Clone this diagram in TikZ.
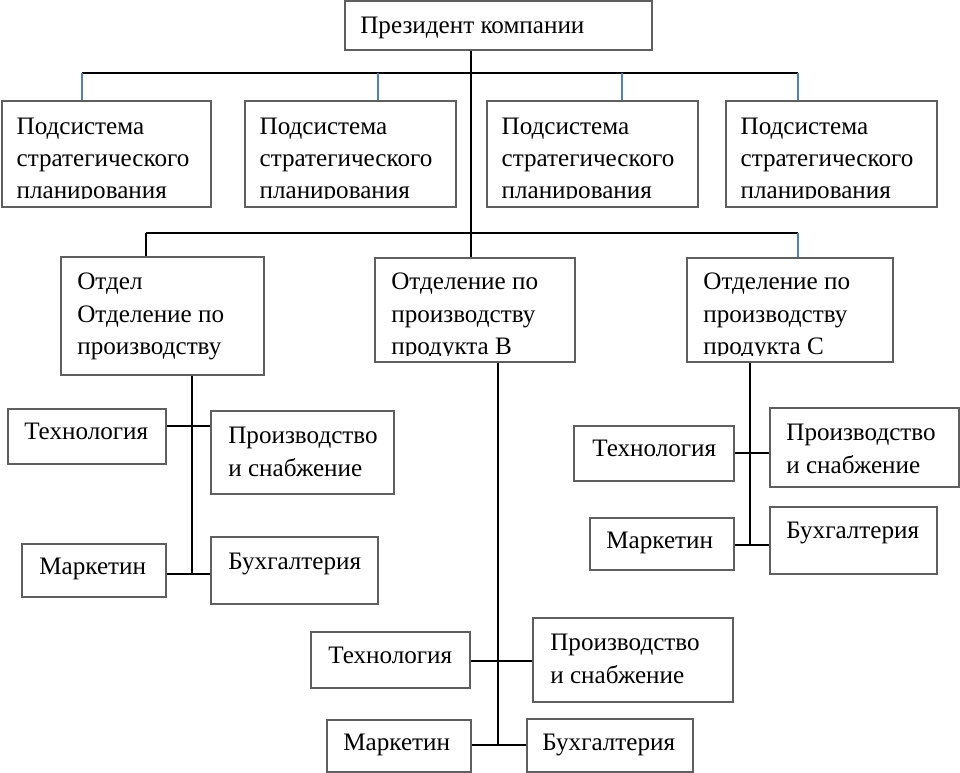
\documentclass[tikz,border=0pt]{standalone}
\usepackage{fontspec}
\setmainfont{Liberation Serif}
\usetikzlibrary{fit}
\definecolor{boxgray}{RGB}{95,95,95}
\definecolor{stubblue}{RGB}{79,129,189}

\tikzset{
  unitbox/.style={draw=boxgray, line width=0.8pt, inner sep=0pt},
  lbl/.style={anchor=north west, inner sep=0pt, align=left, font=\fontsize{14.3pt}{18.4pt}\selectfont},
  link/.style={line width=0.75pt},
  bluelink/.style={draw=stubblue, line width=0.75pt}
}

\begin{document}
\begin{tikzpicture}[x=0.02cm, y=-0.02cm]
    \useasboundingbox (0,0) rectangle (960,773);

    % president
    \node[unitbox, fit={(345,1) (652,50)}] (pres) {};
    \node[lbl] (prest) at (360,17) {Президент компании};

    % subsystems (text cut at the bottom as in the original)
    \foreach \name/\xa/\xb in {sub1/2/211, sub2/245/456, sub3/487/698, sub4/726/937} {
        \node[unitbox, fit={(\xa,101) (\xb,207)}] (\name) {};
        \begin{scope}
            \clip (\name.north west) rectangle ([yshift=0.18cm]\name.south east);
            \node[lbl] (\name t) at ([xshift=0.3cm, yshift=-0.34cm]\name.north west) {Подсистема\\стратегического\\планирования};
        \end{scope}
    }

    \coordinate (busL) at (82,73);
    \coordinate (bus2) at (378,73);
    \coordinate (bus3) at (622,73);
    \coordinate (busR) at (798,73);
    \draw[link] (busL) -- (busR);
    \draw[bluelink] (busL) -- (busL |- sub1.north);
    \draw[bluelink] (bus2) -- (bus2 |- sub2.north);
    \draw[bluelink] (bus3) -- (bus3 |- sub3.north);
    \draw[bluelink] (busR) -- (busR |- sub4.north);

    % divisions
    \node[unitbox, fit={(61,257) (264,375)}] (dA) {};
    \node[lbl] (dAt) at (77,273) {Отдел\\Отделение по\\производству};

    \node[unitbox, fit={(375,258) (575,362)}] (dB) {};
    \begin{scope}
        \clip (dB.north west) rectangle ([yshift=0.14cm]dB.south east);
        \node[lbl] (dBt) at (391,273) {Отделение по\\производству\\продукта В};
    \end{scope}

    \node[unitbox, fit={(687,258) (893,362)}] (dC) {};
    \begin{scope}
        \clip (dC.north west) rectangle ([yshift=0.14cm]dC.south east);
        \node[lbl] (dCt) at (703,273) {Отделение по\\производству\\продукта С};
    \end{scope}

    \coordinate (trunk) at (471,233);
    \coordinate (bus2L) at (146,233);
    \coordinate (bus2R) at (798,233);
    \draw[link] (pres.south -| trunk) -- (trunk |- dB.north);
    \draw[link] (bus2L) -- (bus2R);
    \draw[link] (bus2L) -- (bus2L |- dA.north);
    \draw[bluelink] (bus2R) -- (bus2R |- dC.north);

    % services of division A
    \node[unitbox, fit={(8,409) (166,464)}] (tA) {};
    \node[lbl] (tAt) at (24,423) {Технология};
    \node[unitbox, fit={(211,411) (394,494)}] (pA) {};
    \node[lbl] (pAt) at (228,427) {Производство\\и снабжение};
    \node[unitbox, fit={(22,544) (166,597)}] (mA) {};
    \node[lbl] (mAt) at (39,558) {Маркетин};
    \node[unitbox, fit={(211,537) (378,604)}] (bA) {};
    \node[lbl] (bAt) at (228,553) {Бухгалтерия};

    \coordinate (jA1) at (192,426);
    \coordinate (jA2) at (192,574);
    \draw[link] (dA.south -| jA2) -- (jA2);
    \draw[link] (tA.east |- jA1) -- (pA.west |- jA1);
    \draw[link] (mA.east |- jA2) -- (bA.west |- jA2);

    % services of division B
    \node[unitbox, fit={(311,632) (470,688)}] (tB) {};
    \node[lbl] (tBt) at (328,647) {Технология};
    \node[unitbox, fit={(533,618) (733,702)}] (pB) {};
    \node[lbl] (pBt) at (550,634) {Производство\\и снабжение};
    \node[unitbox, fit={(327,720) (471,772)}] (mB) {};
    \node[lbl] (mBt) at (343,734) {Маркетин};
    \node[unitbox, fit={(527,719) (693,772)}] (bB) {};
    \node[lbl] (bBt) at (542,734) {Бухгалтерия};

    \coordinate (jB1) at (498,661);
    \coordinate (jB2) at (498,745);
    \draw[link] (dB.south -| jB2) -- (jB2);
    \draw[link] (tB.east |- jB1) -- (pB.west |- jB1);
    \draw[link] (mB.east |- jB2) -- (bB.west |- jB2);

    % services of division C
    \node[unitbox, fit={(574,426) (734,481)}] (tC) {};
    \node[lbl] (tCt) at (592,440) {Технология};
    \node[unitbox, fit={(770,408) (959,487)}] (pC) {};
    \node[lbl] (pCt) at (786,424) {Производство\\и снабжение};
    \node[unitbox, fit={(590,518) (734,570)}] (mC) {};
    \node[lbl] (mCt) at (606,532) {Маркетин};
    \node[unitbox, fit={(770,507) (937,574)}] (bC) {};
    \node[lbl] (bCt) at (786,522) {Бухгалтерия};

    \coordinate (jC1) at (750,453);
    \coordinate (jC2) at (750,545);
    \draw[link] (dC.south -| jC2) -- (jC2);
    \draw[link] (tC.east |- jC1) -- (pC.west |- jC1);
    \draw[link] (mC.east |- jC2) -- (bC.west |- jC2);
\end{tikzpicture}
\end{document}
